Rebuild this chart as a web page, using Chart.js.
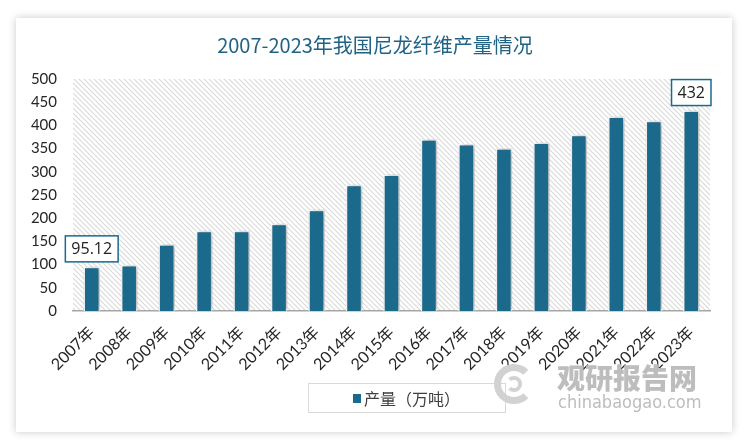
<!DOCTYPE html>
<html>
<head>
<meta charset="utf-8">
<script src="https://cdn.jsdelivr.net/npm/chart.js@4"></script>
<style>
  body { margin: 0; background: #fff; }
  #wrap { position: relative; width: 750px; height: 445px; }
  #card { position: absolute; left: 16px; top: 18px; width: 716px; height: 414px; background: #fff; box-shadow: 0 0 8px rgba(0,0,0,0.22); }
  #chart { position: absolute; left: 0; top: 0; }
  #legend { position: absolute; left: 308px; top: 383px; width: 198px; height: 30px; border: 1px solid #d9d9d9; box-sizing: border-box;
    font: 16px "Noto Sans CJK SC", sans-serif; color: #404040; display: flex; align-items: center; padding-left: 44px; }
  #legend i { display: inline-block; width: 8px; height: 9px; background: #1b6a8c; margin-right: 3px; }
  #wm { position: absolute; left: 494px; top: 360px; }
  #wm .logo { position: absolute; left: 0; top: 4px; width: 40px; height: 40px; border-radius: 50%; border: 7px solid #d2d2d2; border-right-color: transparent; box-sizing: border-box; }
  #wm .logo2 { position: absolute; left: 12px; top: 16px; width: 16px; height: 16px; border-radius: 50%; border: 4px solid #d2d2d2; border-left-color: transparent; box-sizing: border-box; }
  #wm .cn { position: absolute; left: 63px; top: -3px; font: 900 28px "Noto Sans CJK SC", sans-serif; white-space: nowrap; color: #bdbdbd; }
  #wm .en { position: absolute; left: 64px; top: 31px; font: 18px "DejaVu Sans Condensed", sans-serif; white-space: nowrap; color: #bdbdbd; }
</style>
</head>
<body>
<div id="wrap">
  <div id="card"></div>
  <canvas id="chart" width="750" height="445"></canvas>
  <div id="legend"><i></i>产量（万吨）</div>
  <div id="wm"><div class="logo"></div><div class="logo2"></div><div class="cn">观研报告网</div><div class="en">chinabaogao.com</div></div>
</div>
<script>
const chartTitle = "2007-2023年我国尼龙纤维产量情况";
const years = ["2007年", "2008年", "2009年", "2010年", "2011年", "2012年", "2013年", "2014年", "2015年",
  "2016年", "2017年", "2018年", "2019年", "2020年", "2021年", "2022年", "2023年"];
const output = [95.12, 99, 144, 173, 173, 188, 218, 272, 294, 370, 360, 351, 363, 380, 419, 410, 432];
const shownLabels = { 0: "95.12", 16: "432" };

const barColor = "#1b6a8c";
const font = "Lato, 'Noto Sans CJK SC', sans-serif";

// diagonal hatch for the plot area
const makeHatch = () => {
  const c = document.createElement("canvas");
  c.width = 5;
  c.height = 5;
  const g = c.getContext("2d");
  g.fillStyle = "#fff";
  g.fillRect(0, 0, 5, 5);
  g.strokeStyle = "#dadada";
  g.lineWidth = 1.2;
  g.beginPath();
  g.moveTo(-1, -1); g.lineTo(6, 6);
  g.moveTo(-6, -1); g.lineTo(1, 6);
  g.moveTo(4, -1); g.lineTo(11, 6);
  g.stroke();
  return g.createPattern(c, "repeat");
};

const hatchPlugin = {
  id: "hatch",
  beforeDraw(chart) {
    const { ctx, chartArea: a } = chart;
    ctx.save();
    ctx.fillStyle = makeHatch();
    ctx.fillRect(a.left, a.top, a.right - a.left, a.bottom - a.top);
    ctx.restore();
    ctx.save();
    ctx.fillStyle = "#1f6284";
    ctx.font = "20px 'Noto Sans CJK SC', sans-serif";
    ctx.textAlign = "center";
    ctx.textBaseline = "middle";
    ctx.fillText(chartTitle, 375, 45);
    ctx.restore();
  },
  beforeDatasetDraw(chart) {
    const ctx = chart.ctx;
    ctx.save();
    ctx.shadowColor = "rgba(0,0,0,0.35)";
    ctx.shadowBlur = 6;
    ctx.shadowOffsetX = 2;
    ctx.shadowOffsetY = 0;
  },
  afterDatasetDraw(chart) {
    chart.ctx.restore();
  },
  afterDatasetsDraw(chart) {
    const { ctx } = chart;
    const meta = chart.getDatasetMeta(0);
    ctx.save();
    ctx.font = "16px 'Open Sans', sans-serif";
    ctx.textAlign = "center";
    ctx.textBaseline = "middle";
    Object.keys(shownLabels).forEach((i) => {
      const bar = meta.data[i];
      const txt = shownLabels[i];
      const w = ctx.measureText(txt).width + 12;
      const h = 26;
      const x = bar.x - w / 2;
      const y = bar.y - 5 - h;
      ctx.fillStyle = "#fff";
      ctx.fillRect(x, y, w, h);
      ctx.strokeStyle = "#1b6a8c";
      ctx.lineWidth = 1.5;
      ctx.strokeRect(x, y, w, h);
      ctx.fillStyle = "#222";
      ctx.fillText(txt, bar.x, y + h / 2 + 1);
    });
    ctx.restore();
  },
};

new Chart(document.querySelector("#chart"), {
  type: "bar",
  data: {
    labels: years,
    datasets: [
      {
        label: "产量（万吨）",
        data: output,
        backgroundColor: barColor,
        borderColor: "#fff",
        borderWidth: 1.5,
        categoryPercentage: 1,
        barPercentage: 0.44,
      },
    ],
  },
  options: {
    responsive: false,
    animation: false,
    layout: { padding: { left: 20, right: 40, top: 79, bottom: 0 } },
    plugins: { legend: { display: false }, title: { display: false }, tooltip: { enabled: false } },
    scales: {
      x: {
        grid: { display: false },
        border: { color: "#a6a6a6", width: 1.5 },
        ticks: { color: "#262626", font: { family: font, size: 16 }, minRotation: 45, maxRotation: 45, padding: 4 },
        afterFit: (s) => { s.height = 134; },
      },
      y: {
        min: 0,
        max: 500,
        grid: { display: false },
        border: { display: false },
        ticks: { stepSize: 50, color: "#262626", font: { family: font, size: 15 }, padding: 8 },
        afterFit: (s) => { s.width = 53; },
      },
    },
  },
  plugins: [hatchPlugin],
});
</script>
</body>
</html>
